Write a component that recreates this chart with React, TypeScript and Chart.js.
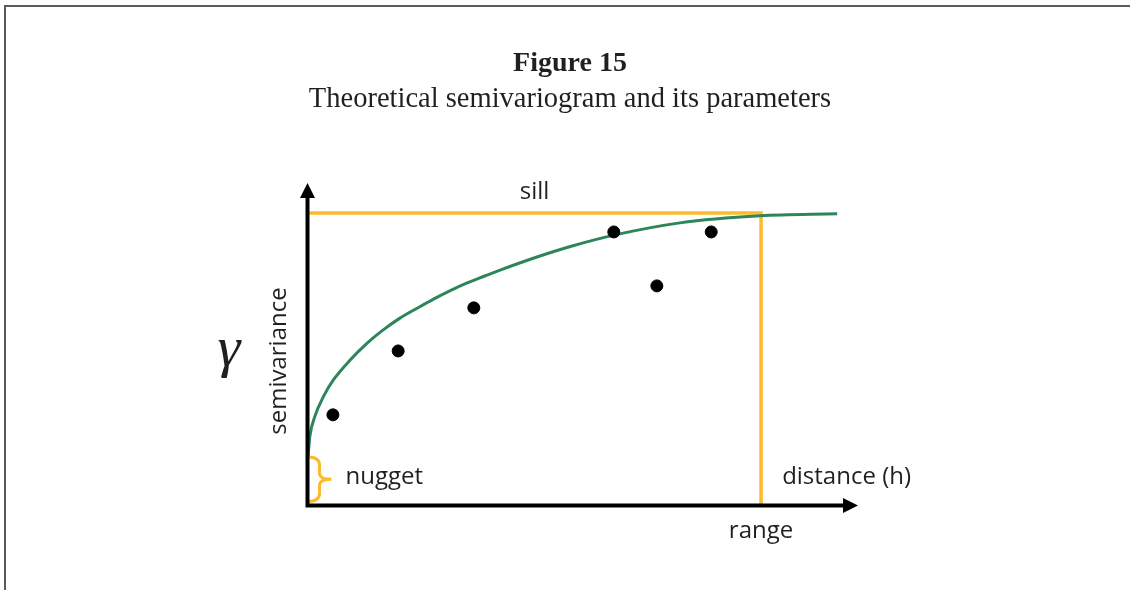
import React, { useEffect, useRef } from "react";
import { Chart, registerables } from "chart.js";

Chart.register(...registerables);

// Theoretical curve (distance h, semivariance)
const curveX = [0, 0.04, 0.15, 0.34, 0.56, 0.93, 1.3, 1.66, 2.03, 2.4, 2.77, 3.13, 3.5, 3.87, 4.24, 5.12, 5.85, 6.78, 8.21, 9.98, 11.68];
const curveY = [1.67, 2.37, 3.05, 3.73, 4.3, 4.98, 5.55, 6.01, 6.41, 6.74, 7.06, 7.34, 7.6, 7.83, 8.05, 8.53, 8.88, 9.25, 9.66, 9.9, 9.97];

// Experimental semivariance points
const sampleX = [0.55, 1.99, 3.66, 6.75, 7.7, 8.9];
const sampleY = [3.11, 5.29, 6.76, 9.35, 7.51, 9.35];

// Parameters
const sill = 10;
const range = 10;
const nugget = 1.67;
const xMax = 12.14;
const yMax = 11.02;

const titleText = "Figure 15";
const subtitleText = "Theoretical semivariogram and its parameters";
const labels = { sill: "sill", nugget: "nugget", distance: "distance (h)", range: "range", yLabel: "semivariance", gamma: "γ" };

const ORANGE = "#FDBA2C";
const GREEN = "#2E8559";
const TEXT = "#231F20";
const SANS = "'Open Sans', sans-serif";
const SERIF = "'Liberation Serif', 'Times New Roman', serif";

const decor = {
  id: "decor",
  beforeDatasetsDraw(chart: any) {
    const ctx = chart.ctx;
    ctx.save();
    // frame (top and left only)
    ctx.fillStyle = "#5a5a5a";
    ctx.fillRect(4, 5, chart.width - 4, 2);
    ctx.fillRect(4, 5, 2, chart.height - 5);
    // titles
    ctx.fillStyle = TEXT;
    ctx.textAlign = "center";
    ctx.textBaseline = "alphabetic";
    ctx.font = `bold 28px ${SERIF}`;
    ctx.fillText(titleText, 570, 71);
    ctx.font = `28.5px ${SERIF}`;
    ctx.fillText(subtitleText, 570, 107);
    ctx.restore();
  },
  afterDatasetsDraw(chart: any) {
    const ctx = chart.ctx;
    const xs = chart.scales.x;
    const ys = chart.scales.y;
    const ax = xs.getPixelForValue(0) - 0.5;
    const ay = ys.getPixelForValue(0) - 0.5;
    const right = xs.getPixelForValue(xMax);
    const top = ys.getPixelForValue(yMax);
    ctx.save();

    // nugget brace
    const yT = ys.getPixelForValue(nugget);
    const yB = ay - 4;
    const mid = (yT + yB) / 2;
    const x0 = ax;
    const xm = ax + 12;
    const xt = ax + 24;
    ctx.strokeStyle = ORANGE;
    ctx.lineWidth = 3;
    ctx.beginPath();
    ctx.moveTo(x0, yT);
    ctx.quadraticCurveTo(xm, yT, xm, yT + 8);
    ctx.lineTo(xm, mid - 6);
    ctx.quadraticCurveTo(xm, mid, xt, mid);
    ctx.quadraticCurveTo(xm, mid, xm, mid + 6);
    ctx.lineTo(xm, yB - 8);
    ctx.quadraticCurveTo(xm, yB, x0, yB);
    ctx.stroke();

    // axes
    ctx.strokeStyle = "#000";
    ctx.fillStyle = "#000";
    ctx.lineWidth = 4;
    ctx.lineCap = "butt";
    ctx.beginPath();
    ctx.moveTo(ax, top + 12);
    ctx.lineTo(ax, ay + 2);
    ctx.moveTo(ax - 2, ay);
    ctx.lineTo(right - 12, ay);
    ctx.stroke();
    // arrow heads
    ctx.beginPath();
    ctx.moveTo(ax, top);
    ctx.lineTo(ax - 7.5, top + 15);
    ctx.lineTo(ax + 7.5, top + 15);
    ctx.closePath();
    ctx.fill();
    ctx.beginPath();
    ctx.moveTo(right, ay);
    ctx.lineTo(right - 15, ay - 7.5);
    ctx.lineTo(right - 15, ay + 7.5);
    ctx.closePath();
    ctx.fill();

    // labels
    ctx.fillStyle = TEXT;
    ctx.font = `24px ${SANS}`;
    ctx.textBaseline = "alphabetic";
    ctx.textAlign = "center";
    ctx.fillText(labels.sill, xs.getPixelForValue(5.0), ys.getPixelForValue(sill) - 14);
    ctx.fillText(labels.range, xs.getPixelForValue(range), ay + 32);
    ctx.textAlign = "left";
    ctx.fillText(labels.nugget, ax + 38, ay - 22);
    ctx.textAlign = "right";
    ctx.fillText(labels.distance, right + 53, ay - 22);

    // y label rotated
    ctx.save();
    ctx.translate(ax - 22, 361);
    ctx.rotate(-Math.PI / 2);
    ctx.textAlign = "center";
    ctx.fillText(labels.yLabel, 0, 0);
    ctx.restore();

    // gamma
    ctx.font = `italic 58px ${SERIF}`;
    ctx.textAlign = "center";
    ctx.fillText(labels.gamma, 229, 366);
    ctx.restore();
  },
};

export default function App() {
  const ref = useRef<HTMLCanvasElement | null>(null);
  useEffect(() => {
    if (!ref.current) return;
    const chart = new Chart(ref.current, {
      type: "scatter",
      data: {
        datasets: [
          {
            type: "scatter",
            data: sampleX.map((x, i) => ({ x, y: sampleY[i] })),
            backgroundColor: "#000",
            borderColor: "#000",
            pointRadius: 6,
            pointHoverRadius: 6,
            clip: false,
          } as any,
          {
            type: "line",
            data: curveX.map((x, i) => ({ x, y: curveY[i] })),
            borderColor: GREEN,
            borderWidth: 3,
            pointRadius: 0,
            fill: false,
            cubicInterpolationMode: "monotone",
            clip: false,
          } as any,
          {
            type: "line",
            data: [
              { x: 0, y: sill },
              { x: range, y: sill },
              { x: range, y: 0 },
            ],
            borderColor: ORANGE,
            borderWidth: 3.5,
            pointRadius: 0,
            fill: false,
            tension: 0,
            clip: false,
          } as any,
        ],
      },
      options: {
        responsive: false,
        animation: false,
        devicePixelRatio: 1,
        layout: { padding: { left: 308, top: 183, right: 272, bottom: 84 } },
        scales: {
          x: { type: "linear", min: 0, max: xMax, display: false },
          y: { type: "linear", min: 0, max: yMax, display: false },
        },
        plugins: {
          legend: { display: false },
          tooltip: { enabled: false },
          title: { display: false },
        },
      },
      plugins: [decor],
    });
    return () => chart.destroy();
  }, []);
  return (
    <div style={{ position: "fixed", left: 0, top: 0, width: 1130, height: 590, background: "#fff" }}>
      <canvas ref={ref} width={1130} height={590} style={{ width: 1130, height: 590, display: "block" }} />
    </div>
  );
}
